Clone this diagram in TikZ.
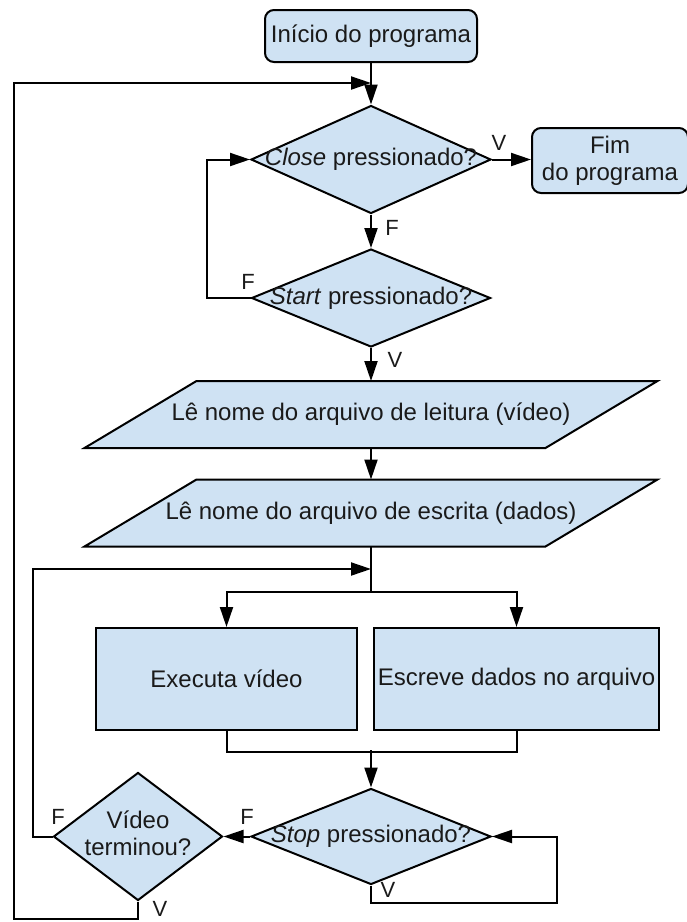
\documentclass[tikz,border=0pt]{standalone}
\usepackage{fontspec}
\setmainfont{Liberation Sans}
\usetikzlibrary{shapes.geometric,arrows.meta,backgrounds}
\definecolor{boxblue}{RGB}{207,226,243}
\definecolor{ink}{RGB}{26,26,26}
\begin{document}
\begin{tikzpicture}[x=1pt,y=-1pt,
  base/.style={draw=black, line width=2pt, fill=boxblue, text=ink,
               font=\fontsize{24}{27}\selectfont, inner sep=0pt},
  terminal/.style={base, rectangle, rounded corners=9pt, align=center},
  process/.style={base, rectangle},
  decision/.style={base, diamond},
  iobox/.style={rectangle, inner sep=0pt, outer sep=0pt, text=ink,
                font=\fontsize{24}{27}\selectfont,
                minimum width=461pt, minimum height=67pt},
  ioshape/.style={draw=black, line width=2pt, fill=boxblue},
  wire/.style={line width=2pt, draw=black},
  flow/.style={wire, -{Triangle[length=20pt,width=13pt]}},
  tag/.style={text=ink, font=\fontsize{22}{22}\selectfont, inner sep=0pt},
]
\useasboundingbox (0,0) rectangle (687,922);

% ---- blocks ----
\node[terminal, minimum width=212pt, minimum height=52pt] (inicio) at (371,36) {Início do programa};
\node[decision, minimum width=240pt, minimum height=108pt] (close) at (371,159.5)
  {\makebox[0pt]{\textit{Close} pressionado?}};
\node[terminal, minimum width=156pt, minimum height=65pt] (fim) at (610,160.5) {Fim\\do programa};
\node[decision, minimum width=239pt, minimum height=98pt] (startq) at (371,298)
  {\makebox[0pt]{\textit{Start} pressionado?}};
\node[iobox] (rd) at (371,414.5) {Lê nome do arquivo de leitura (vídeo)};
\node[iobox] (wr) at (371,513) {Lê nome do arquivo de escrita (dados)};
\node[process, minimum width=261pt, minimum height=102pt] (exe) at (226.5,679) {Executa vídeo};
\node[process, minimum width=285pt, minimum height=102pt] (esc) at (516.5,679) {Escreve dados no arquivo};
\node[decision, minimum width=240pt, minimum height=96pt] (stop) at (371,836.5)
  {\makebox[0pt]{\textit{Stop} pressionado?}};
\node[decision, minimum width=169pt, minimum height=128pt] (video) at (138,836.5)
  {\makebox[0pt]{\begin{tabular}{@{}c@{}}Vídeo\\terminou?\end{tabular}}};

% input parallelograms behind their texts
\begin{scope}[on background layer]
  \foreach \n in {rd,wr}
    \filldraw[ioshape] ([xshift=-56pt]\n.south west) -- ([xshift=56pt]\n.north west)
      -- ([xshift=56pt]\n.north east) -- ([xshift=-56pt]\n.south east) -- cycle;
\end{scope}

% ---- junction points ----
\coordinate (topjoin) at (371,83);
\coordinate (startloop) at (207,159.5);
\coordinate (innerjoin) at (371,569);
\coordinate (split) at (371,592);
\coordinate (merge) at (371,750);
\coordinate (stoploop) at (557,903);
\coordinate (innerleft) at (33,569);
\coordinate (outerleft) at (14,919);

% ---- connectors ----
\draw[flow] (inicio.south) -- (close.north);
\draw[flow] (close.east) -- (close.east -| fim.west);
\draw[flow] (close.south) -- (startq.north);
\draw[flow] (startq.west) -| (startloop) -- (close.west);
\draw[flow] (startq.south) -- (rd.north);
\draw[flow] (rd.south) -- (wr.north);
\draw[wire] (wr.south) -- (split);
\draw[flow] (split) -| (exe.north);
\draw[flow] (split) -| (esc.north);
\draw[wire] (exe.south) -- ++(0,21) -| (esc.south);
\draw[flow] (merge) -- (stop.north);
\draw[flow] (stop.west) -- (video.east);
\draw[flow] (stop.south) |- (stoploop) |- (stop.east);
\draw[flow] (video.west) -| (innerleft) -- (innerjoin);
\draw[flow] (video.south) |- (outerleft) |- (topjoin);

% ---- branch labels ----
\node[tag] (tcv) at (499,143) {V};
\node[tag] (tcf) at (392,228) {F};
\node[tag] (tsf) at (248,282) {F};
\node[tag] (tsv) at (395,360) {V};
\node[tag] (tvf) at (58,817) {F};
\node[tag] (tpf) at (247,817) {F};
\node[tag] (tpv) at (388,890) {V};
\node[tag] (tvv) at (160,909) {V};
\end{tikzpicture}
\end{document}
